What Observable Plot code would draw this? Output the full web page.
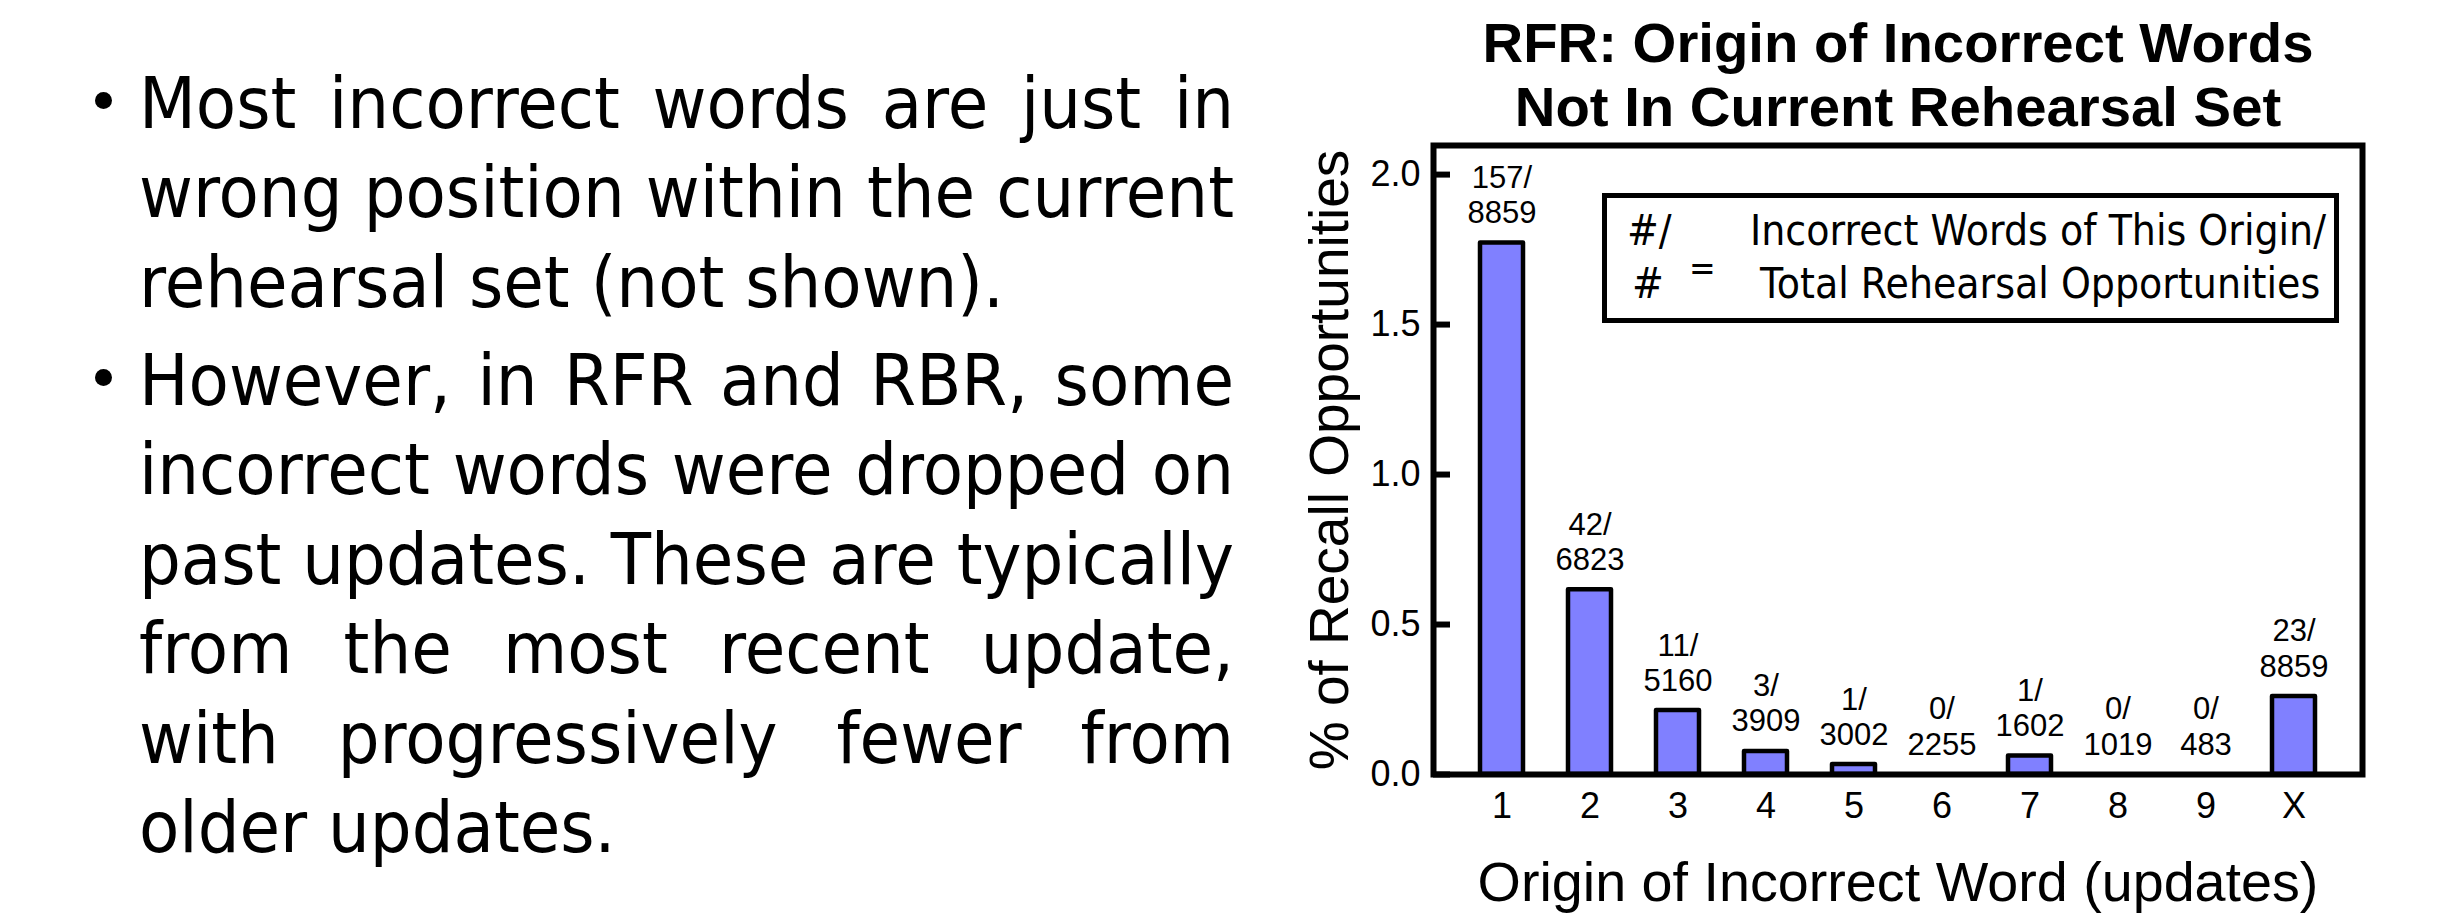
<!DOCTYPE html>
<html><head><meta charset="utf-8">
<script src="https://cdn.jsdelivr.net/npm/d3@7"></script>
<script src="https://cdn.jsdelivr.net/npm/@observablehq/plot@0.6"></script>
<style>
html,body{margin:0;padding:0;background:#fff;}
#page{position:relative;width:2464px;height:913px;overflow:hidden;background:#fff;color:#000;}
.t{position:absolute;white-space:pre;line-height:1;color:#000;}
.jl{position:absolute;display:flex;justify-content:space-between;align-items:baseline;line-height:1;white-space:pre;color:#000;}
.m{position:absolute;left:-9999px;top:0;white-space:pre;line-height:1;}
</style></head><body><div id="page"></div>
<script>
// ---- chart data ----
const origins = ["1","2","3","4","5","6","7","8","9","X"];
const percents = [1.772, 0.616, 0.213, 0.077, 0.033, 0, 0.062, 0, 0, 0.260];
const wrongCounts = ["157","42","11","3","1","0","1","0","0","23"];
const opportunities = ["8859","6823","5160","3909","3002","2255","1602","1019","483","8859"];
const yTicks = [0, 0.5, 1.0, 1.5, 2.0];
const yDomain = [0, 2.097];
const titleLines = ["RFR: Origin of Incorrect Words", "Not In Current Rehearsal Set"];
const yTitle = "% of Recall Opportunities";
const xTitle = "Origin of Incorrect Word (updates)";
const legendLeft = ["#/", "#"];
const legendRight = ["Incorrect Words of This Origin/", "Total Rehearsal Opportunities"];
// ---- slide text ----
const bullet1 = ["Most incorrect words are just in", "wrong position within the current", "rehearsal set (not shown)."];
const bullet2 = ["However, in RFR and RBR, some", "incorrect words were dropped on", "past updates. These are typically", "from the most recent update,", "with progressively fewer from", "older updates."];

const page = document.getElementById("page");
const HUM = '"DejaVu Sans", Tahoma, Verdana, sans-serif';
const ARIAL = '"Liberation Sans", Arial, Helvetica, sans-serif';
function measure(str, size, fam, weight) {
  const s = document.createElement("span");
  s.className = "m"; s.textContent = str;
  s.style.fontFamily = fam; s.style.fontSize = size + "px"; s.style.fontWeight = weight || "normal";
  document.body.appendChild(s);
  const w = s.getBoundingClientRect().width;
  s.remove();
  return w;
}
function place(str, o) {
  const d = document.createElement("div");
  d.className = "t"; d.textContent = str;
  d.style.fontFamily = o.fam; d.style.fontSize = o.size + "px"; d.style.fontWeight = o.weight || "normal";
  d.style.top = (o.baseline - 0.846 * o.size) + "px";
  const sx = o.sx || 1;
  const w = measure(str, o.size, o.fam, o.weight) * sx;
  const left = o.anchor === "middle" ? o.x - w / 2 : o.anchor === "end" ? o.x - w : o.x;
  d.style.left = left + "px";
  d.style.transformOrigin = "0 0"; d.style.transform = `scaleX(${sx})`;
  page.appendChild(d);
}

// ---- left slide text ----
const FS = 71, TL = 139, TW = 1095;
const sLast = (890 + 466) / (measure(bullet1[2], FS, HUM) + measure(bullet2[5], FS, HUM));
let sFit = Infinity;
[bullet1.slice(0, 2), bullet2.slice(0, 5)].flat().forEach(l => { sFit = Math.min(sFit, TW / measure(l, FS, HUM)); });
const S = Math.min(sLast, sFit);
function para(lines, firstBaseline, bulletY) {
  const b = document.createElement("div");
  Object.assign(b.style, {position: "absolute", left: "95px", top: (bulletY - 8.5) + "px", width: "17px", height: "17px", borderRadius: "50%", background: "#000"});
  page.appendChild(b);
  lines.forEach((line, i) => {
    const baseline = firstBaseline + i * 89.5;
    if (i < lines.length - 1) {
      const d = document.createElement("div");
      d.className = "jl";
      Object.assign(d.style, {left: TL + "px", top: (baseline - 0.846 * FS) + "px", width: (TW / S) + "px", fontFamily: HUM, fontSize: FS + "px", transformOrigin: "0 0", transform: `scaleX(${S})`});
      line.split(" ").forEach(w => { const s = document.createElement("span"); s.textContent = w; d.appendChild(s); });
      page.appendChild(d);
    } else {
      place(line, {x: TL, baseline, size: FS, fam: HUM, sx: S});
    }
  });
}
para(bullet1, 128, 100);
para(bullet2, 405, 377);

// ---- chart title (above the svg) ----
titleLines.forEach((t, i) => place(t, {x: 1898, baseline: 63 + i * 64, size: 56.3, fam: ARIAL, weight: "bold", anchor: "middle"}));

// ---- chart ----
const rows = origins.map((o, i) => ({origin: o, pct: percents[i], label: `${wrongCounts[i]}/\n${opportunities[i]}`}));
const W = 1184, H = 783, ML = 153, MR = 102, MT = 15, MB = 139;
const plot = Plot.plot({
  width: W, height: H,
  marginLeft: ML, marginRight: MR, marginTop: MT, marginBottom: MB,
  style: {fontFamily: ARIAL, fontSize: "36px", color: "black", background: "transparent", overflow: "visible"},
  x: {domain: origins, padding: 0.51, tickSize: 0, tickPadding: 18, label: null},
  y: {domain: yDomain, ticks: yTicks, tickFormat: d3.format(".1f"), tickSize: 0, tickPadding: 13, label: null},
  marks: [
    Plot.barY(rows, {x: "origin", y: "pct", fill: "#8080ff", stroke: "black", strokeWidth: 4.5, strokeLinejoin: "round"}),
    Plot.tickY(yTicks, {y: d => d, stroke: "black", strokeWidth: 6, insetRight: (W - ML - MR) - 17}),
    Plot.frame({stroke: "black", strokeWidth: 6}),
    Plot.text(rows, {x: "origin", y: "pct", text: "label", lineAnchor: "bottom", dy: -20, fontSize: 31, lineHeight: 1.13, fill: "black"}),
    Plot.text([yTitle], {frameAnchor: "left", text: d => d, rotate: -90, textAnchor: "middle", lineAnchor: "middle", dx: -103, fontSize: 55, fill: "black"}),
    Plot.text([xTitle], {frameAnchor: "bottom", text: d => d, lineAnchor: "bottom", dy: 126, fontSize: 55.7, fill: "black"})
  ]
});
const holder = document.createElement("div");
Object.assign(holder.style, {position: "absolute", left: "1280px", top: "130px", width: W + "px", height: H + "px"});
holder.appendChild(plot);
page.appendChild(holder);

// ---- legend box (overlay inside the frame) ----
const box = document.createElement("div");
Object.assign(box.style, {position: "absolute", left: "1602px", top: "193px", width: "737px", height: "130px", boxSizing: "border-box", border: "5px solid #000", background: "#fff"});
page.appendChild(box);
const LF = 43;
const LS = 576 / measure(legendRight[0], LF, HUM);
place(legendLeft[0], {x: 1627, baseline: 245, size: LF, fam: HUM, sx: LS});
place(legendLeft[1], {x: 1632, baseline: 298, size: LF, fam: HUM, sx: LS});
place("=", {x: 1702, baseline: 280, size: 36, fam: HUM, sx: LS, anchor: "middle"});
place(legendRight[0], {x: 2038, baseline: 245, size: LF, fam: HUM, sx: LS, anchor: "middle"});
place(legendRight[1], {x: 2040, baseline: 298, size: LF, fam: HUM, sx: LS, anchor: "middle"});
</script>
</body></html>
